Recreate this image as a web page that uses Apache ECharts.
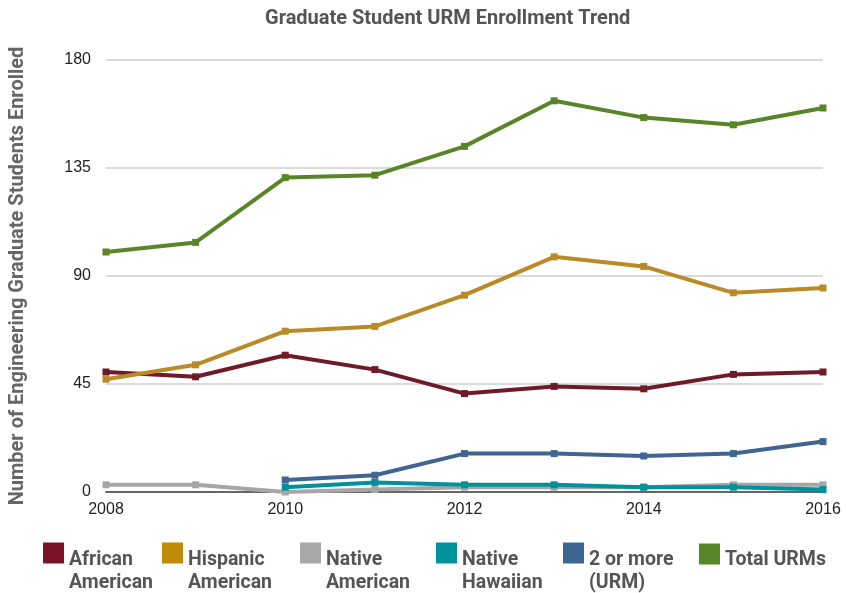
<!DOCTYPE html>
<html><head><meta charset="utf-8">
<script src="https://cdn.jsdelivr.net/npm/echarts@6/dist/echarts.min.js"></script>
<style>html,body{margin:0;padding:0;background:#fff}#c{width:846px;height:593px}</style>
</head><body><div id="c"></div>
<script>
const years = ['2008','2009','2010','2011','2012','2013','2014','2015','2016'];
const africanAmerican = [50, 48, 57, 51, 41, 44, 43, 49, 50];
const hispanicAmerican = [47, 53, 67, 69, 82, 98, 94, 83, 85];
const nativeAmerican = [3, 3, 0, 1, 2, 2, 2, 3, 3];
const nativeHawaiian = [null, null, 2, 4, 3, 3, 2, 2, 1];
const twoOrMore = [null, null, 5, 7, 16, 16, 15, 16, 21];
const totalURMs = [100, 104, 131, 132, 144, 163, 156, 153, 160];
const yTicks = [0, 45, 90, 135, 180];

const names = ['African\nAmerican','Hispanic\nAmerican','Native\nAmerican','Native\nHawaiian','2 or more\n(URM)','Total URMs'];
const colors = ['#6f1a29','#b98a25','#a6a6a8','#00929a','#3f6590','#5a8428'];
const legendColors = ['#7b1225','#bf8a0a','#a7a7aa','#00939c','#3c6591','#5a8727'];
const dataSets = [africanAmerican, hispanicAmerican, nativeAmerican, nativeHawaiian, twoOrMore, totalURMs];
const legendLeft = [43, 162, 300, 436, 563, 699];

const chart = echarts.init(document.getElementById('c'));
chart.setOption({
  animation: false,
  title: {
    text: 'Graduate Student URM Enrollment Trend',
    left: 260, top: 4,
    textStyle: {fontFamily: 'Roboto', fontWeight: 'bold', fontSize: 20, color: '#555'}
  },
  grid: {left: 103, right: 23, top: 60, bottom: 101},
  legend: names.map((n, i) => {
    const lines = n.split('\n');
    const two = lines.length > 1;
    const sp = two ? 38 : 12;
    return {
      data: [{name: n, itemStyle: {color: legendColors[i]}}],
      left: legendLeft[i], top: two ? 529.5 : 542, padding: 0,
      icon: 'rect', itemWidth: 21, itemHeight: 21, itemGap: 0,
      formatter: () => '{s| }\n' + lines.map(l => '{t|' + l + '}').join('\n'),
      textStyle: {
        rich: {
          s: {fontSize: 1, lineHeight: sp},
          t: {fontFamily: 'Roboto', fontWeight: 'bold', fontSize: 19.5, color: '#555', lineHeight: 23}
        }
      }
    };
  }),
  xAxis: {
    type: 'category', data: years, boundaryGap: false,
    axisLine: {lineStyle: {color: '#666', width: 2}},
    axisTick: {show: false},
    axisLabel: {interval: 1, fontFamily: 'Liberation Sans', fontSize: 16, color: '#222', margin: 10},
    splitLine: {show: false}
  },
  yAxis: {
    type: 'value', min: yTicks[0], max: yTicks[yTicks.length-1], interval: 45,
    name: 'Number of Engineering Graduate Students Enrolled',
    nameLocation: 'middle', nameGap: 78, nameRotate: 90,
    nameTextStyle: {fontFamily: 'Roboto', fontWeight: 'bold', fontSize: 20, color: '#666'},
    axisLine: {show: false}, axisTick: {show: false},
    axisLabel: {fontFamily: 'Liberation Sans', fontSize: 16, color: '#222', margin: 15},
    splitLine: {lineStyle: {color: '#cfcfcf', width: 1.5}}
  },
  series: names.map((n, i) => ({
    name: n, type: 'line', data: dataSets[i],
    symbol: 'rect', symbolSize: 7, showSymbol: true,
    lineStyle: {color: colors[i], width: 4},
    itemStyle: {color: colors[i]},
    z: 2 + i
  }))
});
</script></body></html>
